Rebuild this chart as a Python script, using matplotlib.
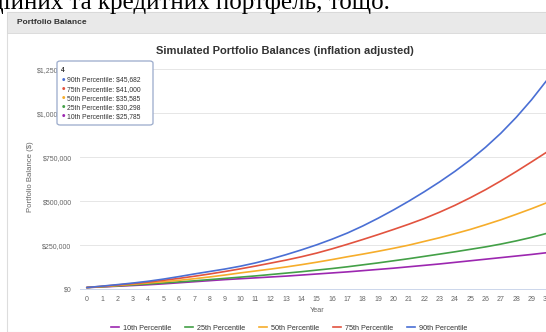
import matplotlib
matplotlib.use('Agg')
import matplotlib.pyplot as plt
from matplotlib.patches import Rectangle, FancyBboxPatch
from matplotlib.lines import Line2D

# Simulated balances per year (inflation adjusted), in dollars
years = list(range(0, 31))
p10 = [10000, 13500, 17500, 21500, 25785, 31000, 37000, 43000, 49000, 55000,
       60000, 65000, 70000, 75000, 81000, 87000, 93000, 99000, 106000, 113000,
       120000, 128000, 136000, 144000, 153000, 162000, 171000, 180000, 189000, 198000, 208000]
p25 = [10000, 14500, 19500, 24800, 30298, 36000, 42000, 48000, 55000, 62000,
       69000, 76000, 84000, 92000, 100000, 109000, 118000, 128000, 139000, 150000,
       162000, 174000, 187000, 200000, 213000, 227000, 241000, 257000, 275000, 295000, 318000]
p50 = [10000, 15500, 21500, 28500, 35585, 43000, 51000, 60000, 70000, 81000,
       93000, 104000, 115000, 127000, 140000, 154000, 169000, 185000, 200000, 216000,
       233000, 251000, 272000, 293000, 316000, 340000, 367000, 395000, 426000, 458000, 492000]
p75 = [10000, 17000, 24500, 32500, 41000, 51000, 62000, 74000, 87000, 101000,
       116000, 132000, 149000, 166000, 185000, 206000, 230000, 256000, 283000, 311000,
       340000, 370000, 402000, 438000, 477000, 520000, 566000, 616000, 669000, 724000, 780000]
p90 = [10000, 18000, 26500, 35500, 45682, 58000, 72000, 87000, 101000, 115000,
       131000, 150000, 172000, 197000, 224000, 253000, 285000, 320000, 360000, 404000,
       451000, 501000, 554000, 610000, 670000, 735000, 807000, 887000, 977000, 1077000, 1188000]

labels = ['10th Percentile', '25th Percentile', '50th Percentile', '75th Percentile', '90th Percentile']
colors = ['#9c27b0', '#43a047', '#f6ad2b', '#e2533f', '#4a6fd4']
series = [p10, p25, p50, p75, p90]
yticks = [0, 250000, 500000, 750000, 1000000, 1250000]
hover_year = 4

W, H = 546, 332
fig = plt.figure(figsize=(W / 100, H / 100), dpi=100)
fig.patch.set_facecolor('white')
font = 'Liberation Sans'
grey = '#666666'


def px(x, y):
    return x / W, 1 - y / H


# text line above the panel (cut by the top edge)
fig.text(*px(390, 9), 'інвестиційних та кредитних портфель, тощо.', ha='right', va='baseline',
         family='Liberation Serif', fontsize=18, color='black')

# panel with header bar, kept behind the axes
fig.patches.append(Rectangle(px(7, 332), 0.99, (332 - 12) / H, transform=fig.transFigure,
                             facecolor='white', edgecolor='#dddddd', lw=0.8, zorder=-10))
fig.patches.append(Rectangle(px(7, 33), 0.99, 21 / H, transform=fig.transFigure,
                             facecolor='#e9e9e9', edgecolor='#d8d8d8', lw=0.6, zorder=-9))
fig.text(*px(17, 23), 'Portfolio Balance', ha='left', va='center', family=font,
         fontsize=6, fontweight='bold', color='#333333')

# plot area: x=0 at 86.7px, 15.34px per year; y=0 at 289.3px, 44px per 250k
x0, step = 86.7, 15.34
left_px, right_px = 80, 86.7 + 30.44 * step
ax = fig.add_axes([left_px / W, (H - 289.3) / H, (right_px - left_px) / W, 220 / H])
ax.patch.set_alpha(0)
ax.set_xlim(-0.44, 30.44)
ax.set_ylim(0, 1250000)

for lab, col, vals in zip(labels, colors, series):
    ax.plot(years, vals, color=col, lw=1.2, label=lab, solid_capstyle='round')

ax.set_yticks(yticks)
ax.set_yticklabels(['$' + format(v, ',') for v in yticks])
ax.set_xticks(years)
ax.tick_params(axis='both', length=0, labelsize=5, labelcolor=grey)
ax.tick_params(axis='y', pad=6)
ax.tick_params(axis='x', pad=5)
for lbl in ax.get_xticklabels() + ax.get_yticklabels():
    lbl.set_family(font)
ax.grid(axis='y', color='#e6e6e6', lw=0.7)
ax.set_axisbelow(True)
for s in ['top', 'right', 'left']:
    ax.spines[s].set_visible(False)
ax.spines['bottom'].set_color('#ccd6eb')
ax.spines['bottom'].set_linewidth(0.7)

fig.text(*px(317, 310), 'Year', ha='center', va='center', family=font, fontsize=5.2, color=grey)
fig.text(*px(30, 177), 'Portfolio Balance ($)', ha='center', va='center', rotation=90,
         family=font, fontsize=5.6, color=grey)
fig.text(*px(285, 51), 'Simulated Portfolio Balances (inflation adjusted)', ha='center',
         va='center', family=font, fontsize=8, fontweight='bold', color='#333333')

# legend row
handles = [Line2D([], [], color=c, lw=1.2) for c in colors]
fig.legend(handles, labels, loc='center', bbox_to_anchor=px(289, 328), ncol=5, frameon=False,
           prop={'family': font, 'size': 5.2}, labelcolor='#333333', handlelength=1.1,
           handletextpad=0.55, columnspacing=1.9)

# hover tooltip at year 4
tip = FancyBboxPatch(px(57, 125), 96 / W, 64 / H, transform=fig.transFigure,
                     boxstyle='round,pad=0,rounding_size=0.006', facecolor='white',
                     edgecolor='#9aaacb', lw=0.9, zorder=10)
fig.patches.append(tip)
fig.text(*px(61, 70), str(hover_year), ha='left', va='center', family=font, fontsize=4.8,
         fontweight='bold', color='#333333', zorder=11)
rows = list(zip(labels, colors, series))[::-1]
for i, (lab, col, vals) in enumerate(rows):
    y = 80 + i * 9.1
    fig.text(*px(63, y), '●', ha='center', va='center', family='DejaVu Sans', fontsize=2.8,
             color=col, zorder=11)
    fig.text(*px(67, y), f'{lab}: ${vals[hover_year]:,}', ha='left', va='center', family=font,
             fontsize=4.9, color='#333333', zorder=11)

fig.savefig('out.png', dpi=100)
